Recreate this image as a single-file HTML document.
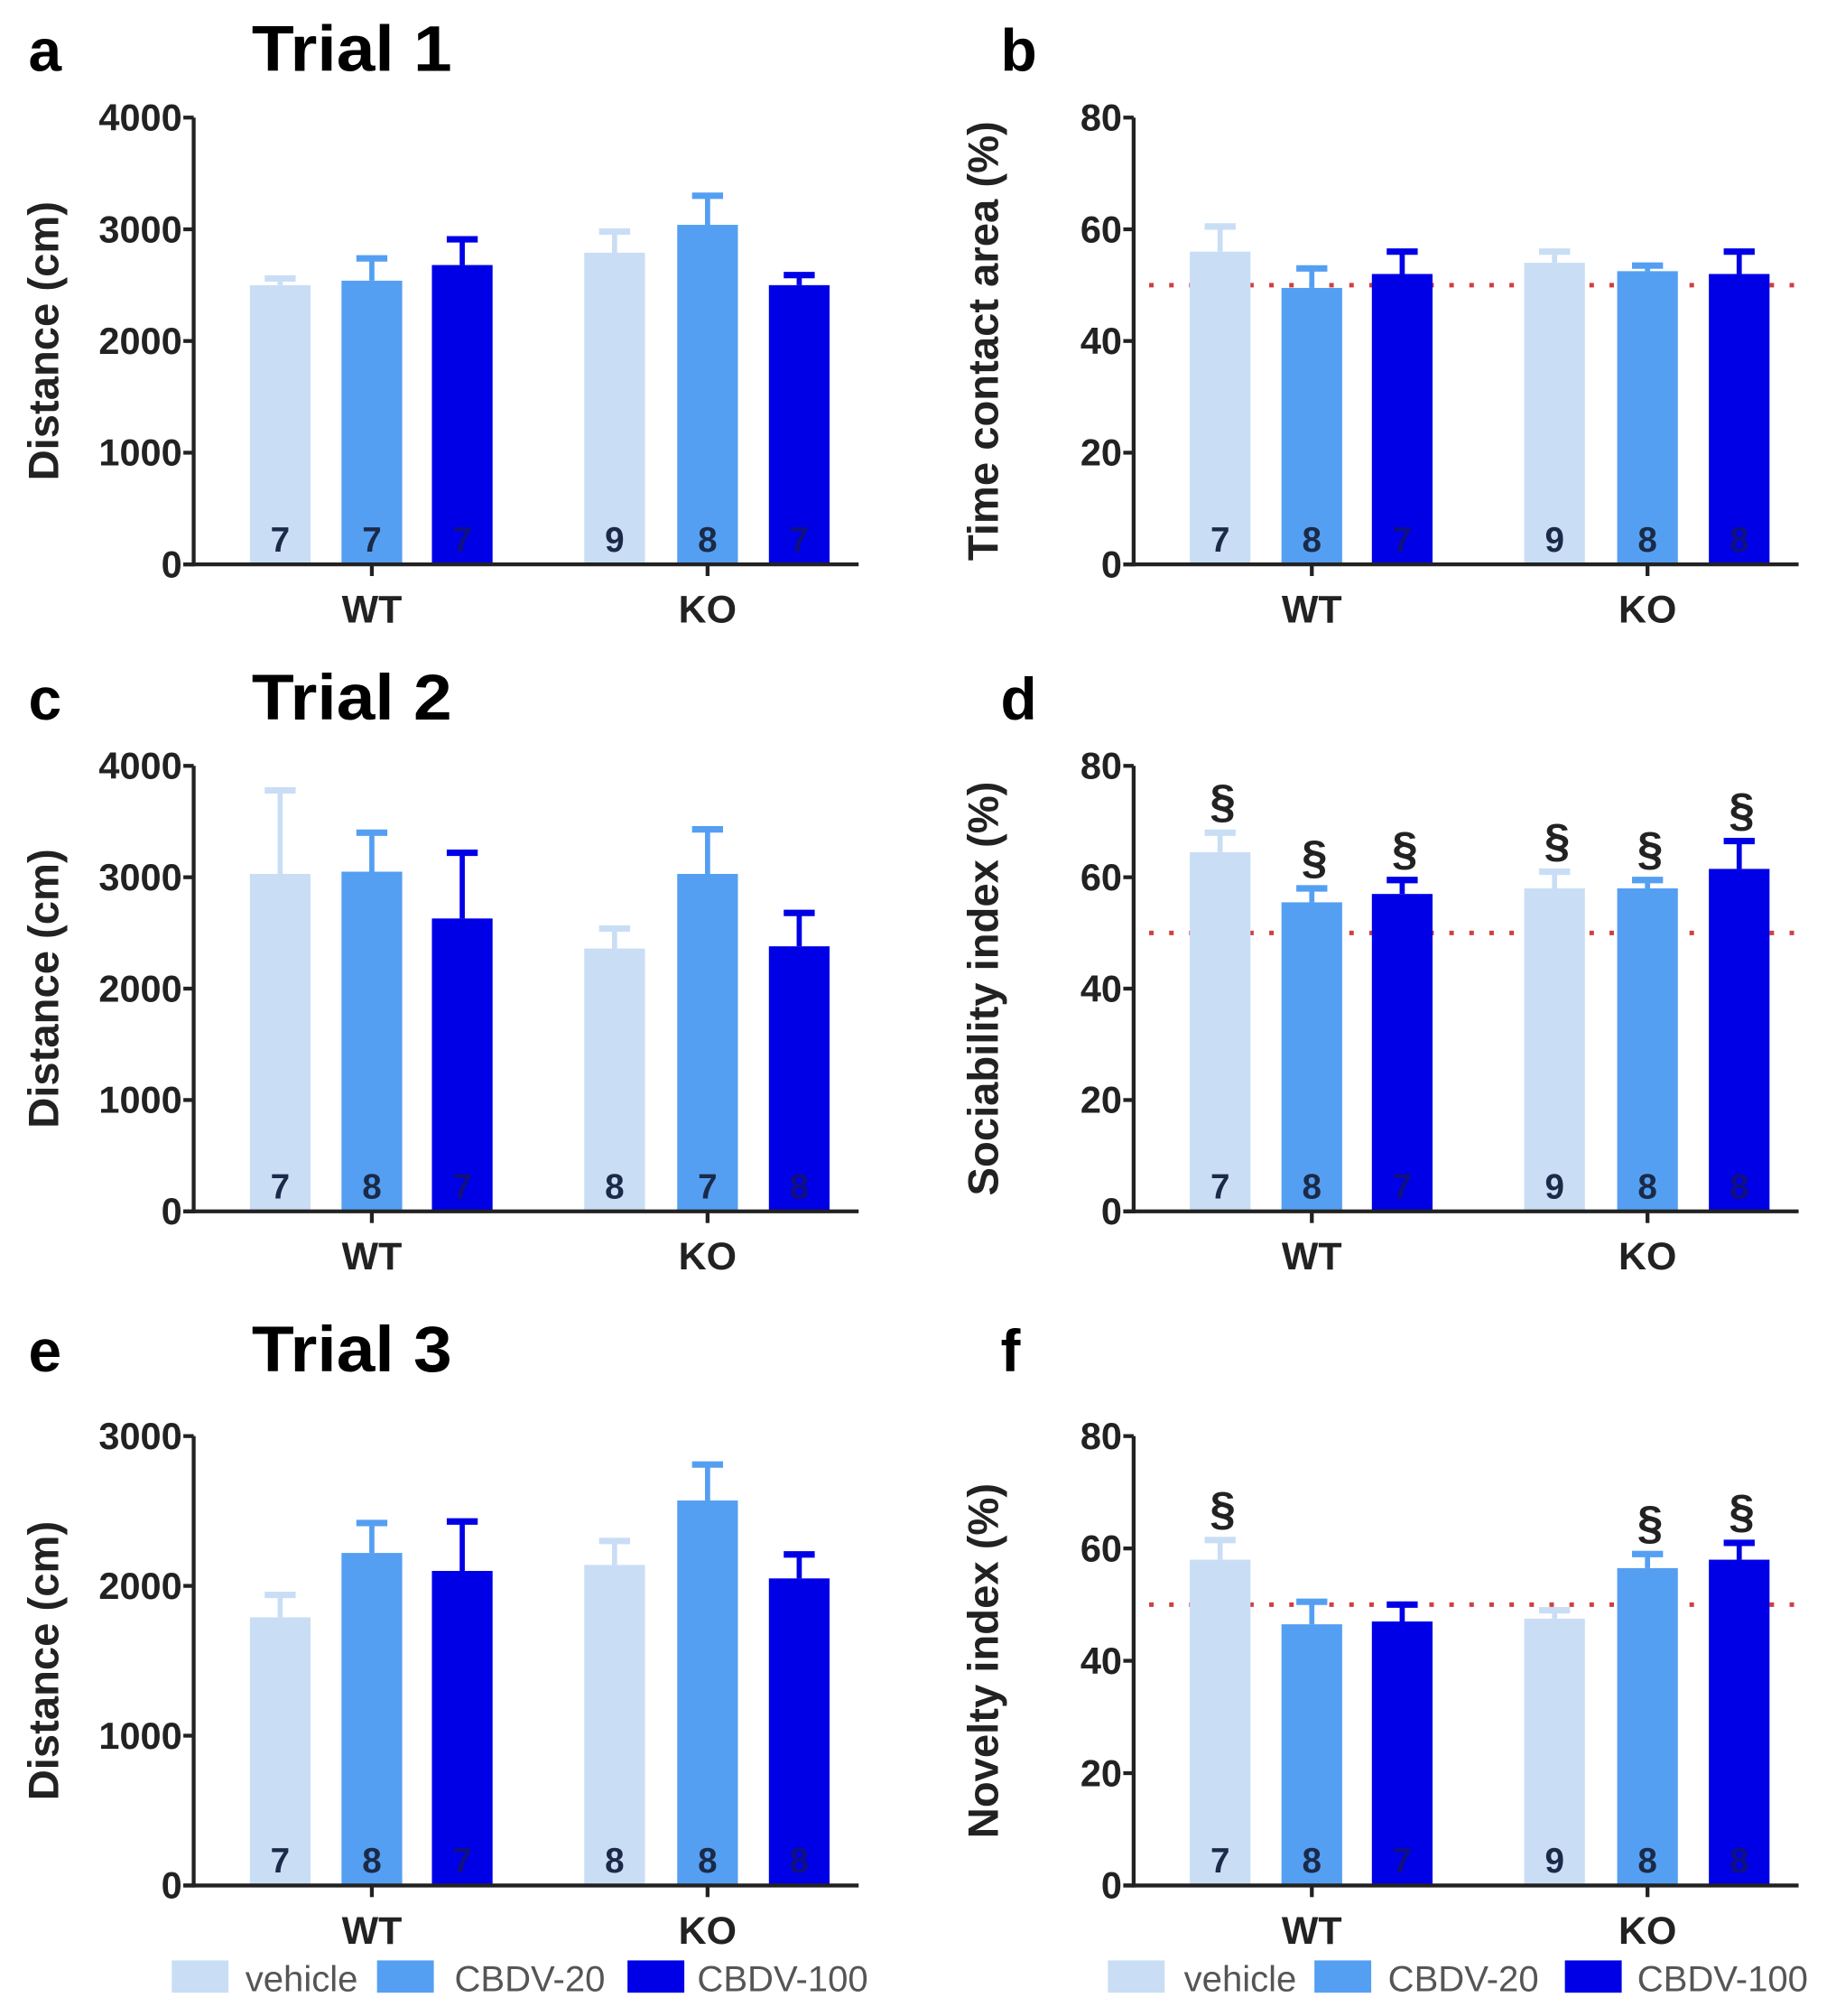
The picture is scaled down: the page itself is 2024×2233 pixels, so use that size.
<!DOCTYPE html>
<html><head><meta charset="utf-8">
<style>
html,body{margin:0;padding:0;background:#fff;}
svg{display:block;}
text{font-family:"Liberation Sans",sans-serif;}
</style></head>
<body>
<svg id="fig" width="2024" height="2233" viewBox="0 0 1415 1561" xmlns="http://www.w3.org/2000/svg"></svg>
<script>
const categories = ["WT", "KO"];
const treatments = ["vehicle", "CBDV-20", "CBDV-100"];
const colors = ["#c9def5", "#559ff2", "#0000e6"];

const aMeans = [2500, 2540, 2680, 2790, 3040, 2500];
const aErr   = [2560, 2740, 2910, 2980, 3300, 2590];
const aN     = [7, 7, 7, 9, 8, 7];

const bMeans = [56, 49.5, 52, 54, 52.5, 52];
const bErr   = [60.5, 53, 56, 56, 53.5, 56];
const bN     = [7, 8, 7, 9, 8, 8];

const cMeans = [3030, 3050, 2630, 2360, 3030, 2380];
const cErr   = [3780, 3400, 3220, 2540, 3430, 2680];
const cN     = [7, 8, 7, 8, 7, 8];

const dMeans = [64.5, 55.5, 57, 58, 58, 61.5];
const dErr   = [68, 58, 59.5, 61, 59.5, 66.5];
const dN     = [7, 8, 7, 9, 8, 8];
const dSig   = [1, 1, 1, 1, 1, 1];

const eMeans = [1790, 2220, 2100, 2140, 2570, 2050];
const eErr   = [1940, 2420, 2430, 2300, 2810, 2210];
const eN     = [7, 8, 7, 8, 8, 8];

const fMeans = [58, 46.5, 47, 47.5, 56.5, 58];
const fErr   = [61.5, 50.5, 50, 49, 59, 61];
const fN     = [7, 8, 7, 9, 8, 8];
const fSig   = [1, 0, 0, 0, 1, 1];

const distTicks = [0, 1000, 2000, 3000, 4000];
const distTicks3 = [0, 1000, 2000, 3000];
const pctTicks = [0, 20, 40, 60, 80];

const NS = "http://www.w3.org/2000/svg";
const svg = document.getElementById("fig");
function mk(tag, attrs, parent) {
  const el = document.createElementNS(NS, tag);
  for (const k in attrs) el.setAttribute(k, attrs[k]);
  (parent || svg).appendChild(el);
  return el;
}

function panel(opt) {
  const g = mk("g", {});
  
  
  const x0 = opt.x0, x1 = opt.x0 + 515, yTop = opt.yTop, yBot = opt.yBot;
  const yMax = opt.ticks[opt.ticks.length - 1];
  const ys = v => yBot - (v / yMax) * (yBot - yTop);
  const offs = [67, 138, 208, 326, 398, 469];
  const xs = i => x0 + offs[i];
  const bw = 47;

  const lt = mk("text", {x: opt.x0 - 128 + (opt.lx || 0), y: opt.ly, "font-size": 46, "font-weight": "bold"}, g);
  lt.textContent = opt.letter;
  
  
  if (opt.title) {
    const tt = mk("text", {x: opt.x0 + 45, y: opt.ly, "font-size": 50, "font-weight": "bold", textLength: 155, lengthAdjust: "spacingAndGlyphs"}, g);
    tt.textContent = opt.title;
    
    
  }

  if (opt.ref != null) {
    const rl = mk("line", {x1: x0 + 12, x2: x1, y1: ys(opt.ref), y2: ys(opt.ref), stroke: "#d04040", "stroke-width": 3.5, "stroke-dasharray": "3.5 12"}, g);
    
    
  }

  opt.means.forEach((m, i) => {
    const c = colors[i % 3];
    const cx = xs(i);
    const eb = mk("g", {}, g);
    
    
    mk("line", {x1: cx, x2: cx, y1: ys(m), y2: ys(opt.err[i]), stroke: c, "stroke-width": 4}, eb);
    mk("line", {x1: cx - 12, x2: cx + 12, y1: ys(opt.err[i]), y2: ys(opt.err[i]), stroke: c, "stroke-width": 5}, eb);
    const r = mk("rect", {x: cx - bw / 2, y: ys(m), width: bw, height: yBot - ys(m), fill: c}, g);
    
    
    const nt = mk("text", {x: cx, y: yBot - 10, "font-size": 27, "font-weight": "bold", "text-anchor": "middle", fill: i % 3 === 2 ? "#101080" : "#1a2a48"}, g);
    nt.textContent = opt.n[i];
    
    
    if (opt.sig && opt.sig[i]) {
      const st = mk("text", {x: cx + 2, y: ys(opt.err[i]) - 12, "font-size": 36, "font-weight": "bold", "text-anchor": "middle", fill: "#222"}, g);
      st.textContent = "§";
      
      
    }
  });

  const ya = mk("line", {x1: x0, x2: x0, y1: yTop, y2: yBot + 1.5, stroke: "#222", "stroke-width": 3}, g);
  
  
  const xa = mk("line", {x1: x0 - 8, x2: x1, y1: yBot, y2: yBot, stroke: "#222", "stroke-width": 3}, g);
  
  
  opt.ticks.forEach(t => {
    mk("line", {x1: x0 - 8, x2: x0, y1: ys(t), y2: ys(t), stroke: "#222", "stroke-width": 3}, g);
    const tl = mk("text", {x: x0 - 9, y: ys(t) + 10, "font-size": 29, "font-weight": "bold", "text-anchor": "end", fill: "#222"}, g);
    tl.textContent = t;
    
    
  });
  categories.forEach((c, k) => {
    const cx = xs(k * 3 + 1);
    mk("line", {x1: cx, x2: cx, y1: yBot, y2: yBot + 9, stroke: "#222", "stroke-width": 3}, g);
    const cl = mk("text", {x: cx, y: yBot + 45, "font-size": 30, "font-weight": "bold", "text-anchor": "middle", fill: "#222"}, g);
    cl.textContent = c;
    
    
  });
  const yt = mk("text", {x: 0, y: 0, "font-size": 33, "font-weight": "bold", "text-anchor": "middle", fill: "#222",
    transform: "translate(" + (opt.x0 - 105) + "," + ((yTop + yBot) / 2) + ") rotate(-90)"}, g);
  yt.textContent = opt.ytitle;
  
  
}

panel({name: "panel-a", letter: "a", title: "Trial 1", x0: 150, yTop: 91, yBot: 437, ly: 55, ticks: distTicks, means: aMeans, err: aErr, n: aN, ytitle: "Distance (cm)"});
panel({name: "panel-b", letter: "b", x0: 878, lx: 25, yTop: 91, yBot: 437, ly: 55, ticks: pctTicks, means: bMeans, err: bErr, n: bN, ref: 50, ytitle: "Time contact area (%)"});
panel({name: "panel-c", letter: "c", title: "Trial 2", x0: 150, yTop: 593, yBot: 938, ly: 557, ticks: distTicks, means: cMeans, err: cErr, n: cN, ytitle: "Distance (cm)"});
panel({name: "panel-d", letter: "d", x0: 878, lx: 25, yTop: 593, yBot: 938, ly: 557, ticks: pctTicks, means: dMeans, err: dErr, n: dN, ref: 50, sig: dSig, ytitle: "Sociability index (%)"});
panel({name: "panel-e", letter: "e", title: "Trial 3", x0: 150, yTop: 1112, yBot: 1460, ly: 1062, ticks: distTicks3, means: eMeans, err: eErr, n: eN, ytitle: "Distance (cm)"});
panel({name: "panel-f", letter: "f", x0: 878, lx: 25, yTop: 1112, yBot: 1460, ly: 1062, ticks: pctTicks, means: fMeans, err: fErr, n: fN, ref: 50, sig: fSig, ytitle: "Novelty  index (%)"});

function legend(name, sx, tx) {
  const g = mk("g", {});
  
  
  treatments.forEach((t, i) => {
    const e = mk("g", {}, g);
    
    
    mk("rect", {x: sx[i], y: 1518, width: 44, height: 25, fill: colors[i]}, e);
    const tl = mk("text", {x: tx[i], y: 1542, "font-size": 28, fill: "#555"}, e);
    tl.textContent = t;
  });
}
legend("legend-left", [133, 292, 486], [190, 352, 540]);
legend("legend-right", [858, 1018, 1212], [917, 1075, 1268]);
</script>
</body></html>
